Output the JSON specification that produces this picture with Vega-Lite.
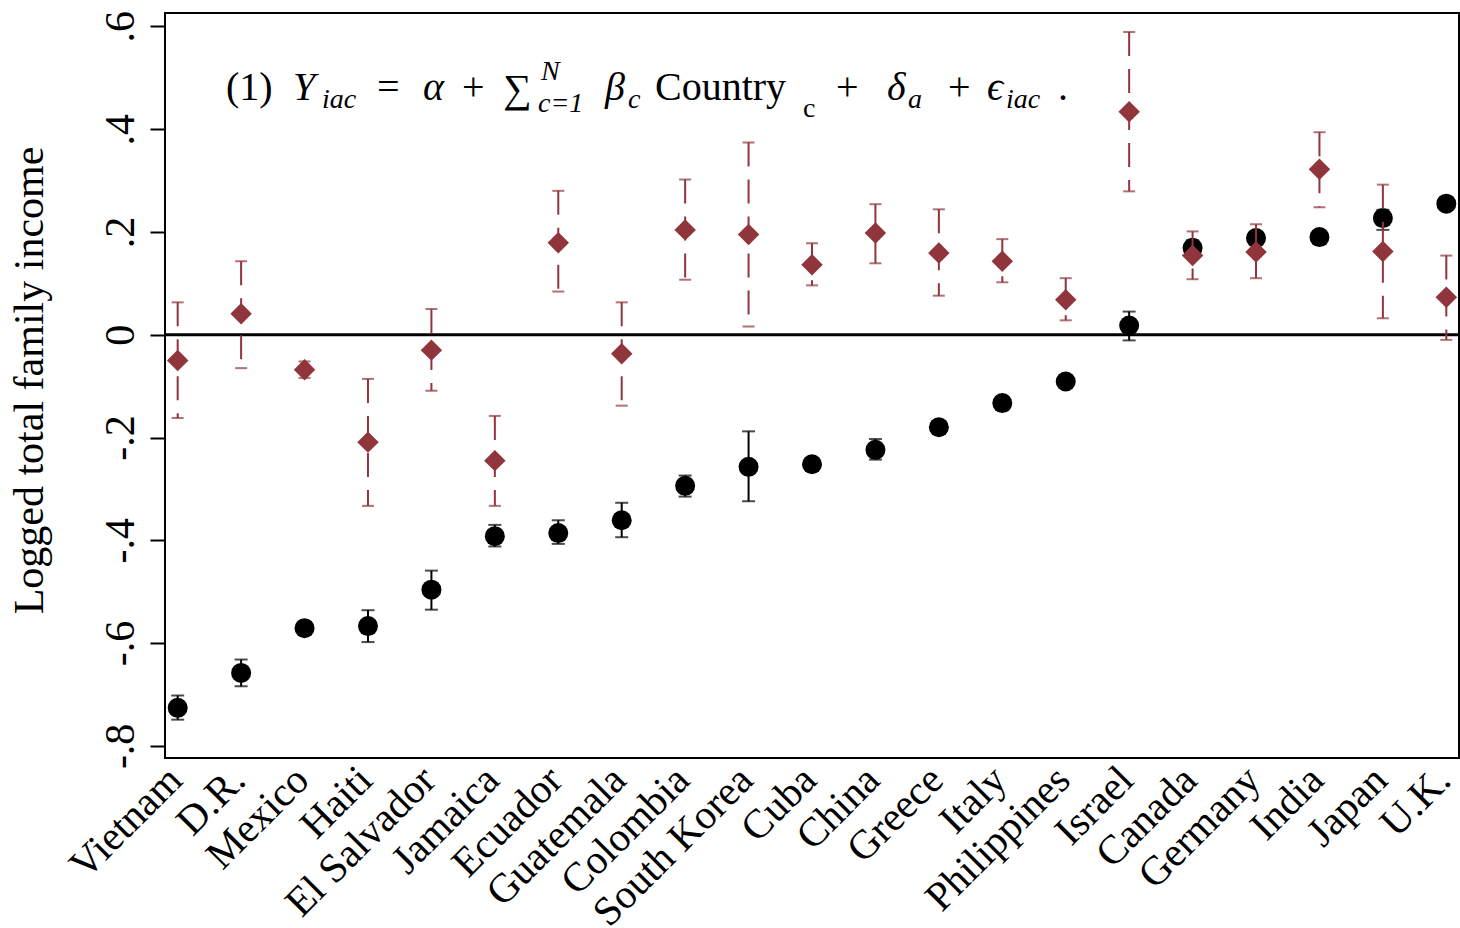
{
  "$schema": "https://vega.github.io/schema/vega-lite/v6.json",
  "width": 1294,
  "height": 745,
  "autosize": {"type": "none"},
  "padding": {"left": 165, "top": 13, "right": 1, "bottom": 170},
  "background": "white",
  "config": {
    "font": "Liberation Serif",
    "view": {"stroke": "black", "strokeWidth": 2},
    "axis": {"labelFont": "Liberation Serif", "titleFont": "Liberation Serif", "labelColor": "black", "titleColor": "black", "grid": false},
    "axisY": {
      "labelAngle": -90, "labelAlign": "center", "labelBaseline": "alphabetic",
      "labelPadding": 17, "labelFontSize": 42, "labelFlush": false,
      "tickSize": 15, "tickWidth": 2, "tickColor": "black", "domain": false,
      "titleFontSize": 42, "titleFontWeight": "normal", "titleAngle": -90,
      "titleBaseline": "alphabetic", "titleAlign": "center", "titleX": -123, "titleY": 367
    },
    "text": {"font": "Liberation Serif"}
  },
  "datasets": {
    "estimates": [
      {"country": "Vietnam", "model": "raw", "est": -0.726, "lo": -0.749, "hi": -0.702},
      {"country": "D.R.", "model": "raw", "est": -0.658, "lo": -0.684, "hi": -0.632},
      {"country": "Mexico", "model": "raw", "est": -0.571, "lo": -0.579, "hi": -0.563},
      {"country": "Haiti", "model": "raw", "est": -0.567, "lo": -0.598, "hi": -0.536},
      {"country": "El Salvador", "model": "raw", "est": -0.496, "lo": -0.535, "hi": -0.459},
      {"country": "Jamaica", "model": "raw", "est": -0.392, "lo": -0.412, "hi": -0.370},
      {"country": "Ecuador", "model": "raw", "est": -0.386, "lo": -0.407, "hi": -0.361},
      {"country": "Guatemala", "model": "raw", "est": -0.361, "lo": -0.394, "hi": -0.327},
      {"country": "Colombia", "model": "raw", "est": -0.294, "lo": -0.315, "hi": -0.274},
      {"country": "South Korea", "model": "raw", "est": -0.257, "lo": -0.324, "hi": -0.188},
      {"country": "Cuba", "model": "raw", "est": -0.252, "lo": -0.260, "hi": -0.244},
      {"country": "China", "model": "raw", "est": -0.224, "lo": -0.243, "hi": -0.203},
      {"country": "Greece", "model": "raw", "est": -0.180, "lo": -0.192, "hi": -0.168},
      {"country": "Italy", "model": "raw", "est": -0.133, "lo": -0.143, "hi": -0.123},
      {"country": "Philippines", "model": "raw", "est": -0.091, "lo": -0.100, "hi": -0.082},
      {"country": "Israel", "model": "raw", "est": 0.018, "lo": -0.011, "hi": 0.045},
      {"country": "Canada", "model": "raw", "est": 0.169, "lo": 0.154, "hi": 0.184},
      {"country": "Germany", "model": "raw", "est": 0.188, "lo": 0.176, "hi": 0.200},
      {"country": "India", "model": "raw", "est": 0.190, "lo": 0.180, "hi": 0.200},
      {"country": "Japan", "model": "raw", "est": 0.227, "lo": 0.204, "hi": 0.243},
      {"country": "U.K.", "model": "raw", "est": 0.255, "lo": 0.247, "hi": 0.263},
      {"country": "Vietnam", "model": "adjusted", "est": -0.050, "lo": -0.162, "hi": 0.063},
      {"country": "D.R.", "model": "adjusted", "est": 0.041, "lo": -0.065, "hi": 0.143},
      {"country": "Mexico", "model": "adjusted", "est": -0.068, "lo": -0.084, "hi": -0.052},
      {"country": "Haiti", "model": "adjusted", "est": -0.209, "lo": -0.333, "hi": -0.086},
      {"country": "El Salvador", "model": "adjusted", "est": -0.030, "lo": -0.109, "hi": 0.050},
      {"country": "Jamaica", "model": "adjusted", "est": -0.245, "lo": -0.333, "hi": -0.158},
      {"country": "Ecuador", "model": "adjusted", "est": 0.179, "lo": 0.084, "hi": 0.280},
      {"country": "Guatemala", "model": "adjusted", "est": -0.037, "lo": -0.138, "hi": 0.063},
      {"country": "Colombia", "model": "adjusted", "est": 0.204, "lo": 0.107, "hi": 0.302},
      {"country": "South Korea", "model": "adjusted", "est": 0.195, "lo": 0.016, "hi": 0.374},
      {"country": "Cuba", "model": "adjusted", "est": 0.136, "lo": 0.096, "hi": 0.178},
      {"country": "China", "model": "adjusted", "est": 0.198, "lo": 0.139, "hi": 0.254},
      {"country": "Greece", "model": "adjusted", "est": 0.159, "lo": 0.076, "hi": 0.244},
      {"country": "Italy", "model": "adjusted", "est": 0.143, "lo": 0.102, "hi": 0.186},
      {"country": "Philippines", "model": "adjusted", "est": 0.068, "lo": 0.028, "hi": 0.110},
      {"country": "Israel", "model": "adjusted", "est": 0.434, "lo": 0.279, "hi": 0.589},
      {"country": "Canada", "model": "adjusted", "est": 0.154, "lo": 0.108, "hi": 0.201},
      {"country": "Germany", "model": "adjusted", "est": 0.161, "lo": 0.110, "hi": 0.215},
      {"country": "India", "model": "adjusted", "est": 0.322, "lo": 0.248, "hi": 0.394},
      {"country": "Japan", "model": "adjusted", "est": 0.162, "lo": 0.032, "hi": 0.292},
      {"country": "U.K.", "model": "adjusted", "est": 0.073, "lo": -0.010, "hi": 0.154}
    ],
    "eqUpright": [
      {"t": "(1)", "pos": 0.762, "base": 0.457},
      {"t": "=", "pos": 3.142, "base": 0.457},
      {"t": "+", "pos": 4.482, "base": 0.457},
      {"t": "∑", "pos": 5.129, "base": 0.452},
      {"t": "Country", "pos": 7.525, "base": 0.457},
      {"t": "+", "pos": 10.379, "base": 0.457},
      {"t": "+", "pos": 12.144, "base": 0.457},
      {"t": ".", "pos": 13.878, "base": 0.457}
    ],
    "eqItalic": [
      {"t": "Y", "pos": 1.818, "base": 0.457},
      {"t": "α", "pos": 3.867, "base": 0.457},
      {"t": "β", "pos": 6.737, "base": 0.457},
      {"t": "δ", "pos": 11.183, "base": 0.457},
      {"t": "ϵ", "pos": 12.759, "base": 0.457}
    ],
    "eqSmallItalic": [
      {"t": "iac", "pos": 2.275, "base": 0.4416},
      {"t": "c=1", "pos": 5.681, "base": 0.434},
      {"t": "N", "pos": 5.728, "base": 0.496},
      {"t": "c", "pos": 7.099, "base": 0.4416},
      {"t": "a", "pos": 11.514, "base": 0.4416},
      {"t": "iac", "pos": 13.059, "base": 0.4416}
    ],
    "eqSmallUpright": [
      {"t": "c", "pos": 9.858, "base": 0.424}
    ]
  },
  "layer": [
    {
      "data": {"values": [{"v": 0}]},
      "mark": {"type": "rule", "color": "black", "strokeWidth": 3},
      "encoding": {
        "y": {"field": "v", "type": "quantitative", "scale": {"domain": [-0.8236, 0.626], "nice": false, "zero": false},
          "axis": {"title": "Logged total family income", "values": [-0.8, -0.6, -0.4, -0.2, 0, 0.2, 0.4, 0.6], "labelExpr": "replace('' + datum.value, '0.', '.')"}}
      }
    },
    {
      "data": {"name": "estimates"},
      "encoding": {
        "x": {
          "field": "country", "type": "nominal",
          "scale": {"type": "point", "padding": 0.2, "domain": ["Vietnam", "D.R.", "Mexico", "Haiti", "El Salvador", "Jamaica", "Ecuador", "Guatemala", "Colombia", "South Korea", "Cuba", "China", "Greece", "Italy", "Philippines", "Israel", "Canada", "Germany", "India", "Japan", "U.K."]},
          "axis": {"title": null, "labelAngle": -45, "labelAlign": "right", "labelBaseline": "alphabetic", "labelPadding": 24, "labelOffset": 6, "ticks": false, "tickSize": 0, "domain": false, "labelFontSize": 41, "labelLimit": 0, "labelOverlap": false, "labelFlush": false}
        }
      },
      "layer": [
        {
          "transform": [{"filter": "datum.model == 'raw'"}],
          "mark": {"type": "rule", "color": "black", "strokeWidth": 2},
          "encoding": {
            "y": {"field": "lo", "type": "quantitative", "scale": {"domain": [-0.8236, 0.626], "nice": false, "zero": false},
              "axis": {"title": "Logged total family income", "values": [-0.8, -0.6, -0.4, -0.2, 0, 0.2, 0.4, 0.6], "labelExpr": "replace('' + datum.value, '0.', '.')"}},
            "y2": {"field": "hi"}
          }
        },
        {
          "transform": [{"filter": "datum.model == 'raw'"}],
          "mark": {"type": "tick", "color": "black", "size": 13, "thickness": 2},
          "encoding": {"y": {"field": "lo", "type": "quantitative", "scale": {"domain": [-0.8236, 0.626], "nice": false, "zero": false},
            "axis": {"title": "Logged total family income", "values": [-0.8, -0.6, -0.4, -0.2, 0, 0.2, 0.4, 0.6], "labelExpr": "replace('' + datum.value, '0.', '.')"}}}
        },
        {
          "transform": [{"filter": "datum.model == 'raw'"}],
          "mark": {"type": "tick", "color": "black", "size": 13, "thickness": 2},
          "encoding": {"y": {"field": "hi", "type": "quantitative", "scale": {"domain": [-0.8236, 0.626], "nice": false, "zero": false},
            "axis": {"title": "Logged total family income", "values": [-0.8, -0.6, -0.4, -0.2, 0, 0.2, 0.4, 0.6], "labelExpr": "replace('' + datum.value, '0.', '.')"}}}
        },
        {
          "transform": [{"filter": "datum.model == 'raw'"}],
          "mark": {"type": "point", "shape": "circle", "filled": true, "color": "black", "size": 400, "opacity": 1},
          "encoding": {"y": {"field": "est", "type": "quantitative", "scale": {"domain": [-0.8236, 0.626], "nice": false, "zero": false},
            "axis": {"title": "Logged total family income", "values": [-0.8, -0.6, -0.4, -0.2, 0, 0.2, 0.4, 0.6], "labelExpr": "replace('' + datum.value, '0.', '.')"}}}
        },
        {
          "transform": [{"filter": "datum.model == 'adjusted'"}],
          "mark": {"type": "rule", "color": "#90353B", "strokeWidth": 2, "strokeDash": [24, 13]},
          "encoding": {
            "y": {"field": "hi", "type": "quantitative", "scale": {"domain": [-0.8236, 0.626], "nice": false, "zero": false},
              "axis": {"title": "Logged total family income", "values": [-0.8, -0.6, -0.4, -0.2, 0, 0.2, 0.4, 0.6], "labelExpr": "replace('' + datum.value, '0.', '.')"}},
            "y2": {"field": "lo"}
          }
        },
        {
          "transform": [{"filter": "datum.model == 'adjusted'"}],
          "mark": {"type": "tick", "color": "#90353B", "size": 12, "thickness": 2},
          "encoding": {"y": {"field": "lo", "type": "quantitative", "scale": {"domain": [-0.8236, 0.626], "nice": false, "zero": false},
            "axis": {"title": "Logged total family income", "values": [-0.8, -0.6, -0.4, -0.2, 0, 0.2, 0.4, 0.6], "labelExpr": "replace('' + datum.value, '0.', '.')"}}}
        },
        {
          "transform": [{"filter": "datum.model == 'adjusted'"}],
          "mark": {"type": "tick", "color": "#90353B", "size": 12, "thickness": 2},
          "encoding": {"y": {"field": "hi", "type": "quantitative", "scale": {"domain": [-0.8236, 0.626], "nice": false, "zero": false},
            "axis": {"title": "Logged total family income", "values": [-0.8, -0.6, -0.4, -0.2, 0, 0.2, 0.4, 0.6], "labelExpr": "replace('' + datum.value, '0.', '.')"}}}
        },
        {
          "transform": [{"filter": "datum.model == 'adjusted'"}],
          "mark": {"type": "point", "shape": "diamond", "filled": true, "color": "#90353B", "size": 460, "opacity": 1},
          "encoding": {"y": {"field": "est", "type": "quantitative", "scale": {"domain": [-0.8236, 0.626], "nice": false, "zero": false},
            "axis": {"title": "Logged total family income", "values": [-0.8, -0.6, -0.4, -0.2, 0, 0.2, 0.4, 0.6], "labelExpr": "replace('' + datum.value, '0.', '.')"}}}
        }
      ]
    },
    {
      "encoding": {
        "x": {"field": "pos", "type": "quantitative", "scale": {"domain": [-0.2, 20.2], "nice": false, "zero": false}, "axis": null},
        "y": {"field": "base", "type": "quantitative", "scale": {"domain": [-0.8236, 0.626], "nice": false, "zero": false},
          "axis": {"title": "Logged total family income", "values": [-0.8, -0.6, -0.4, -0.2, 0, 0.2, 0.4, 0.6], "labelExpr": "replace('' + datum.value, '0.', '.')"}},
        "text": {"field": "t"}
      },
      "layer": [
        {
          "data": {"name": "eqUpright"},
          "mark": {"type": "text", "align": "left", "baseline": "alphabetic", "fontSize": 40, "color": "black", "font": "Liberation Serif"}
        },
        {
          "data": {"name": "eqItalic"},
          "mark": {"type": "text", "align": "left", "baseline": "alphabetic", "fontSize": 40, "fontStyle": "italic", "color": "black", "font": "Liberation Serif"}
        },
        {
          "data": {"name": "eqSmallItalic"},
          "mark": {"type": "text", "align": "left", "baseline": "alphabetic", "fontSize": 28, "fontStyle": "italic", "color": "black", "font": "Liberation Serif"}
        },
        {
          "data": {"name": "eqSmallUpright"},
          "mark": {"type": "text", "align": "left", "baseline": "alphabetic", "fontSize": 28, "color": "black", "font": "Liberation Serif"}
        }
      ]
    }
  ],
  "resolve": {"scale": {"x": "independent"}}
}
